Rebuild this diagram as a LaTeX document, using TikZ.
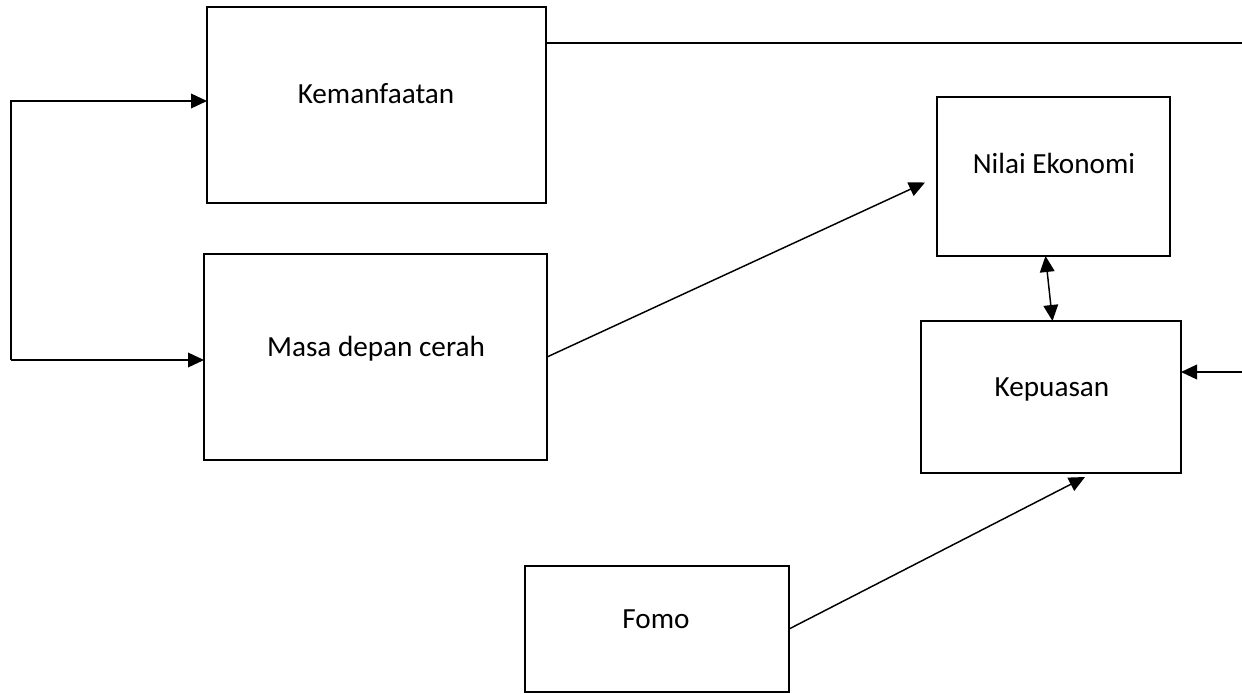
\documentclass[tikz,border=0pt]{standalone}
\usepackage{fontspec}
\setmainfont{Carlito}
\usetikzlibrary{arrows.meta,calc}
\begin{document}
\begin{tikzpicture}[x=0.75pt,y=-0.75pt,
  box/.style={draw=black,line width=1.6pt,inner sep=0pt,outer sep=0pt},
  lbl/.style={anchor=base,inner sep=0pt,font=\fontsize{21.9}{26}\selectfont},
  tip/.style={Triangle[length=12pt,width=11pt]},
  conn/.style={line width=1.1pt,-{Triangle[length=12pt,width=11pt]}},
  both/.style={line width=1.1pt,{Triangle[length=12pt,width=11pt]}-{Triangle[length=12pt,width=11pt]}},
  plain/.style={line width=1.1pt}]
\useasboundingbox (0,0) rectangle (1242,693);
% boxes
\node[box,minimum width=339*0.75pt,minimum height=196*0.75pt] (kem) at (376.5,105) {};
\node[box,minimum width=343*0.75pt,minimum height=206*0.75pt] (masa) at (375.5,357) {};
\node[box,minimum width=233*0.75pt,minimum height=159*0.75pt] (nilai) at (1053.5,176.5) {};
\node[box,minimum width=260*0.75pt,minimum height=152*0.75pt] (kep) at (1051,397) {};
\node[box,minimum width=264*0.75pt,minimum height=126*0.75pt] (fomo) at (657,629) {};
% labels
\node[lbl] (kemt) at (376,103) {Kemanfaatan};
\node[lbl] (masat) at (376,356) {Masa depan cerah};
\node[lbl] (nilait) at (1054,173) {Nilai Ekonomi};
\node[lbl] (kept) at (1052,396) {Kepuasan};
\node[lbl] (fomot) at (656,628) {Fomo};
% free ends at the page edges
\coordinate (topend) at (1242,43);
\coordinate (rightin) at (1242,372);
\coordinate (lefttop) at (11,101);
\coordinate (leftbot) at (11,360);
% connectors
\draw[plain] (kem.east |- topend) -- (topend);
\draw[conn] (leftbot) -- (lefttop) -- (kem.west |- lefttop);
\draw[conn] (leftbot) -- (masa.west |- leftbot);
\draw[conn] (masa.east) -- ($(nilai.west)+(-12,6)$);
\draw[both] ($(nilai.south)+(-8,0)$) -- ($(kep.north)+(1.5,0)$);
\draw[conn] (rightin) -- (kep.east |- rightin);
\draw[conn] (fomo.east) -- ($(kep.south)+(34,4)$);
\end{tikzpicture}
\end{document}
